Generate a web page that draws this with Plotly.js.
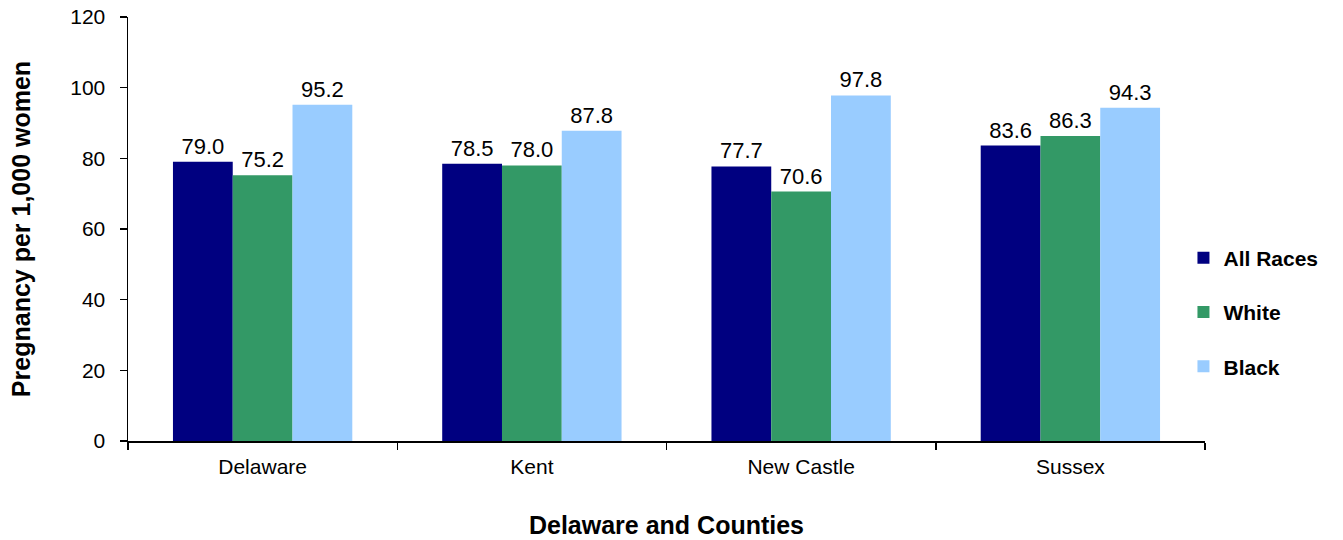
<!DOCTYPE html>
<html><head><meta charset="utf-8">
<script src="https://cdn.plot.ly/plotly-3.0.1.min.js"></script>
<style>body{margin:0;background:#fff}#c{width:1343px;height:540px}</style>
</head><body><div id="c"></div>
<script>
const categories = ["Delaware", "Kent", "New Castle", "Sussex"];
const allRaces = [79.0, 78.5, 77.7, 83.6];
const white = [75.2, 78.0, 70.6, 86.3];
const black = [95.2, 87.8, 97.8, 94.3];
const seriesNames = ["All Races", "White", "Black"];
const colors = ["#000080", "#339966", "#99CCFF"];

const font = "Liberation Sans, Arial, sans-serif";
function mk(vals, i) {
  return {
    type: "bar", x: categories, y: vals, name: seriesNames[i],
    legendgroup: "g" + i,
    marker: {color: colors[i]},
    text: vals.map(v => v.toFixed(1)), textposition: "outside",
    textfont: {family: font, size: 22, color: "#000"},
    cliponaxis: false, hoverinfo: "none"
  };
}
const data = [mk(allRaces, 0), mk(white, 1), mk(black, 2)];
const layout = {
  width: 1343, height: 540,
  margin: {l: 128, r: 138, t: 17, b: 99},
  paper_bgcolor: "#fff", plot_bgcolor: "#fff",
  barmode: "group", bargap: 0.334, bargroupgap: 0,
  font: {family: font, size: 21, color: "#000"},
  showlegend: true,
  legend: {x: 0.98, xanchor: "left", y: 0.304, yanchor: "middle",
           font: {family: font, size: 21, color: "#000", weight: "bold"},
           traceorder: "grouped", tracegroupgap: 24, itemwidth: 30},
  xaxis: {
    type: "category", showline: true, linecolor: "#000", linewidth: 1.5,
    ticks: "outside", tickson: "boundaries", ticklen: 7, tickcolor: "#000", tickwidth: 1.5,
    showgrid: false, zeroline: false, ticklabelstandoff: 6,
    tickfont: {family: font, size: 21, color: "#000"},
    title: {text: "Delaware and Counties", font: {family: font, size: 25, weight: "bold", color: "#000"}, standoff: 40}
  },
  yaxis: {
    range: [0, 120], dtick: 20, showline: true, linecolor: "#000", linewidth: 1.5,
    ticks: "outside", ticklen: 7, tickcolor: "#000", tickwidth: 1.5,
    showgrid: false, zeroline: false, ticklabelstandoff: 10,
    tickfont: {family: font, size: 21, color: "#000"},
    title: {text: "Pregnancy per 1,000 women", font: {family: font, size: 25, weight: "bold", color: "#000"}, standoff: 32}
  }
};
Plotly.newPlot("c", data, layout, {staticPlot: true});
</script></body></html>
